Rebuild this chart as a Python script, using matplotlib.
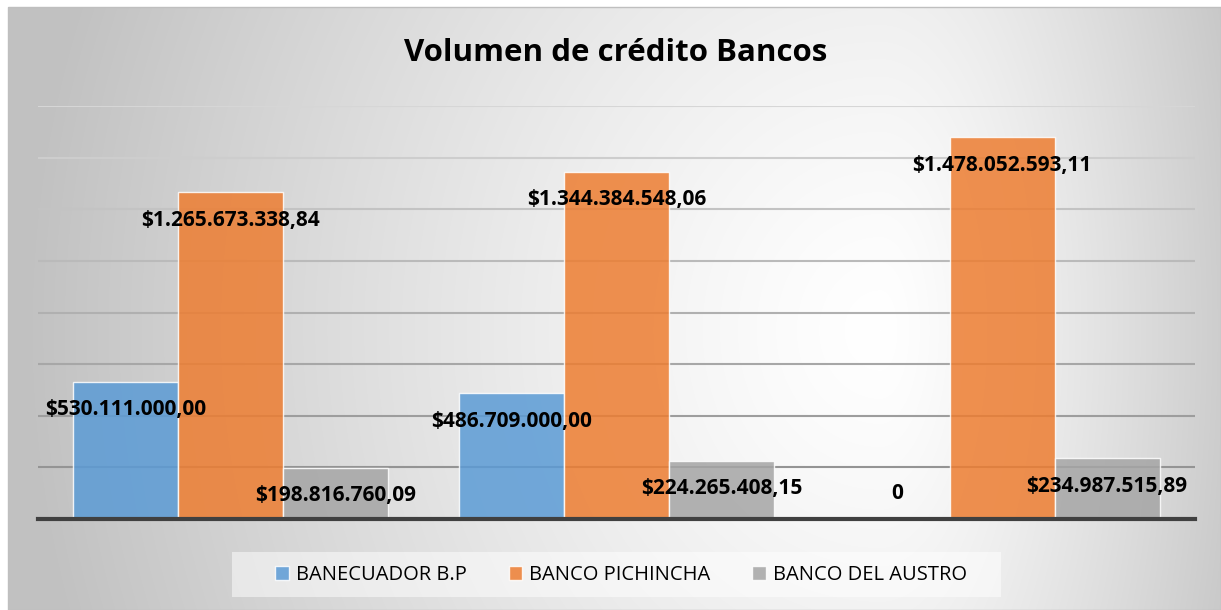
import numpy as np
import matplotlib
matplotlib.use("Agg")
from matplotlib import pyplot as plt
from matplotlib.patches import Rectangle, Patch

plt.rcParams['font.family'] = ['Open Sans', 'DejaVu Sans']

# data
grupos = ['1', '2', '3']
series = ['BANECUADOR B.P', 'BANCO PICHINCHA', 'BANCO DEL AUSTRO']
banecuador = [530111000.00, 486709000.00, 0]
pichincha = [1265673338.84, 1344384548.06, 1478052593.11]
austro = [198816760.09, 224265408.15, 234987515.89]
colores = ['#5B9BD5', '#ED7D31', '#A5A5A5']


def fmt(v):
    if v == 0:
        return '0'
    s = f"{v:,.2f}"
    s = s.replace(',', '#').replace('.', ',').replace('#', '.')
    return '$' + s


W, H = 1221, 610
fig = plt.figure(figsize=(W / 100, H / 100), dpi=100)
fig.patch.set_facecolor('white')

# radial grey background of the chart panel
bg = fig.add_axes([8 / W, 0, 1 - 8 / W, 603 / H], zorder=-5)
xx, yy = np.meshgrid(np.arange(8, W), np.arange(7, H))
cx, cy = 880.0, 330.0
sx = np.where(xx < cx, 850.0, 400.0)
d = np.sqrt(((xx - cx) / sx) ** 2 + ((yy - cy) / 950.0) ** 2)
g = 1 - 0.24 * np.clip(d, 0, 1) ** 1.3
bg.imshow(np.dstack([g, g, g]), aspect='auto', extent=(0, 1, 0, 1))
bg.set_axis_off()
fig.patches.append(Rectangle((8 / W, 0), 1 - 8 / W, 603 / H, transform=fig.transFigure,
                             fill=False, edgecolor='#bfbfbf', lw=1, zorder=-4))

ax = fig.add_axes([38 / W, 91 / H, 1157 / W, 413 / H])
ax.patch.set_alpha(0)

x = np.arange(len(grupos))
w = 0.272
datos = [banecuador, pichincha, austro]
ylim_top = 1.6e9

# gridlines: lighter at the top, darker towards the axis
ticks = np.arange(2e8, ylim_top + 1, 2e8)
for i, t in enumerate(ticks):
    f = i / (len(ticks) - 1)
    c = 0.58 + 0.26 * f
    ax.axhline(t, color=(c, c, c), lw=1.5, zorder=0)

for k, (vals, col) in enumerate(zip(datos, colores)):
    pos = x + (k - 1) * w
    ax.bar(pos, vals, width=w, color=col, alpha=0.85,
           edgecolor=(1, 1, 1, 0.6), linewidth=1, zorder=2)
    for xp, v in zip(pos, vals):
        off = -20 if v > 0 else 18.5
        ax.annotate(fmt(v), (xp, v), xytext=(0, off), textcoords='offset points',
                    ha='center', va='center', fontsize=15, fontweight='bold',
                    color='black', zorder=5)

ax.set_xlim(-0.5, 2.5)
ax.set_ylim(0, ylim_top)
ax.set_xticks([])
ax.set_yticks([])
for s in ['top', 'right', 'left']:
    ax.spines[s].set_visible(False)
ax.spines['bottom'].set_color('#404040')
ax.spines['bottom'].set_linewidth(3)
ax.spines['bottom'].set_zorder(3)

fig.text(616 / W, 1 - 53 / H, 'Volumen de crédito Bancos', ha='center', va='center',
         fontsize=22.5, fontweight='bold', color='black')

# legend box drawn separately
fig.patches.append(Rectangle((232 / W, 1 - 597 / H), 769 / W, 45 / H, transform=fig.transFigure,
                             facecolor=(1, 1, 1, 0.5), edgecolor='none', zorder=1))
handles = [Patch(facecolor=c, alpha=0.85, edgecolor=(1, 1, 1, 0.6)) for c in colores]
leg = fig.legend(handles, series, loc='center', bbox_to_anchor=(621 / W, 1 - 575 / H),
                 ncol=3, frameon=False, fontsize=14.5, handlelength=0.65, handleheight=0.65,
                 handletextpad=0.35, columnspacing=2.1, borderpad=0.3)

fig.savefig('out.png', dpi=100)
